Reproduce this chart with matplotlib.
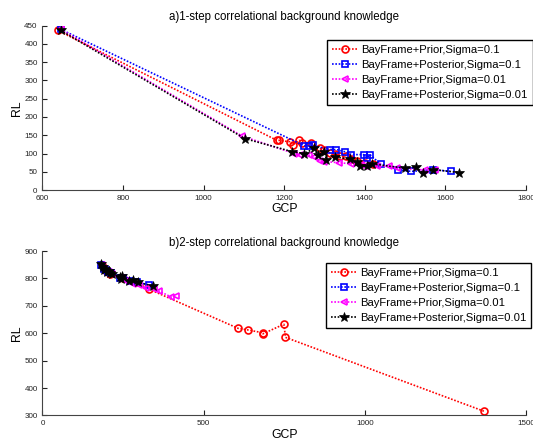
import matplotlib; matplotlib.use('Agg')
import matplotlib.pyplot as plt

plt.rcParams['font.family'] = ['Liberation Sans', 'DejaVu Sans']

labels = ['BayFrame+Prior,Sigma=0.1', 'BayFrame+Posterior,Sigma=0.1',
          'BayFrame+Prior,Sigma=0.01', 'BayFrame+Posterior,Sigma=0.01']

# panel a) 1-step
a_red_x = [638, 1182, 1188, 1214, 1222, 1237, 1245, 1267, 1288, 1300, 1313, 1325, 1338, 1354, 1365, 1380, 1400, 1420]
a_red_y = [437, 136, 136, 132, 124, 136, 128, 128, 114, 110, 102, 98, 93, 94, 86, 80, 75, 70]
a_blue_x = [645, 1250, 1262, 1271, 1313, 1329, 1350, 1367, 1397, 1405, 1413, 1440, 1482, 1516, 1570, 1613]
a_blue_y = [440, 121, 121, 122, 111, 111, 105, 97, 97, 88, 97, 70, 56, 51, 56, 51]
a_mag_x = [645, 1095, 1225, 1240, 1262, 1275, 1290, 1300, 1335, 1365, 1390, 1400, 1430, 1460, 1480, 1550, 1575]
a_mag_y = [440, 148, 100, 96, 95, 90, 80, 78, 75, 72, 68, 65, 65, 65, 60, 55, 55]
a_blk_x = [645, 1102, 1220, 1250, 1275, 1283, 1300, 1305, 1326, 1364, 1381, 1389, 1405, 1418, 1499, 1528, 1545, 1570, 1634]
a_blk_y = [437, 141, 105, 100, 114, 95, 105, 83, 91, 84, 76, 65, 65, 72, 60, 62, 46, 56, 48]

# panel b) 2-step
b_red_x = [185, 195, 210, 250, 290, 332, 607, 638, 683, 684, 749, 754, 1371]
b_red_y = [848, 832, 818, 800, 787, 760, 618, 612, 602, 598, 633, 585, 315]
b_blue_x = [183, 190, 196, 204, 212, 242, 250, 272, 292, 330]
b_blue_y = [850, 835, 830, 825, 820, 803, 800, 791, 787, 776]
b_mag_x = [185, 190, 198, 205, 215, 245, 260, 280, 300, 320, 345, 360, 400, 415]
b_mag_y = [848, 835, 828, 822, 815, 800, 790, 780, 775, 765, 760, 755, 732, 736]
b_blk_x = [183, 188, 192, 195, 200, 205, 210, 215, 240, 245, 248, 270, 280, 295, 342]
b_blk_y = [852, 840, 830, 836, 823, 828, 820, 818, 805, 798, 808, 792, 795, 786, 773]

styles = [dict(color='#ff0000', marker='o', mfc='none', ms=5, mew=1.2),
          dict(color='#0000ff', marker='s', mfc='none', ms=4.6, mew=1.2),
          dict(color='#ff00ff', marker='<', mfc='none', ms=5, mew=1.2),
          dict(color='black', marker='*', mfc='black', ms=7.5, mew=0.5)]

fig = plt.figure(figsize=(5.33, 4.42), dpi=100)
ax1 = fig.add_axes([0.0797, 0.570, 0.907, 0.372])
ax2 = fig.add_axes([0.0797, 0.060, 0.907, 0.372])

panels = [
    (ax1, [(a_red_x, a_red_y), (a_blue_x, a_blue_y), (a_mag_x, a_mag_y), (a_blk_x, a_blk_y)],
     'a)1-step correlational background knowledge', (600, 1800), (0, 450),
     range(600, 1801, 200), range(0, 451, 50), (0.6135, 0.9095)),
    (ax2, [(b_red_x, b_red_y), (b_blue_x, b_blue_y), (b_mag_x, b_mag_y), (b_blk_x, b_blk_y)],
     'b)2-step correlational background knowledge', (0, 1500), (300, 900),
     range(0, 1501, 500), range(300, 901, 100), (0.611, 0.406)),
]

for ax, series, title, xl, yl, xt, yt, legpos in panels:
    for (x, y), st, lab in zip(series, styles, labels):
        ax.plot(x, y, ls=(0, (1, 1)), lw=1.2, label=lab, **st)
    ax.set_xlim(*xl); ax.set_ylim(*yl)
    ax.set_xticks(list(xt)); ax.set_yticks(list(yt))
    ax.tick_params(direction='in', length=3.5, width=0.8, labelsize=5.8, colors='#222222')
    for s in ['top', 'right']:
        ax.spines[s].set_visible(False)
    for s in ['left', 'bottom']:
        ax.spines[s].set_color('#444444'); ax.spines[s].set_linewidth(0.8)
    ax.set_title(title, fontsize=8.3, pad=4)
    ax.set_xlabel('GCP', fontsize=8.8, labelpad=1)
    ax.set_ylabel('RL', fontsize=8.8, labelpad=1)
    leg = ax.legend(loc='upper left', bbox_to_anchor=legpos, bbox_transform=fig.transFigure,
                    fontsize=8.1, fancybox=False, framealpha=1, edgecolor='black', borderaxespad=0,
                    handlelength=2.3, handletextpad=0.3, labelspacing=0.45, borderpad=0.45)
    leg.get_frame().set_linewidth(1.0)

fig.savefig('out.png', dpi=100, facecolor='white')
